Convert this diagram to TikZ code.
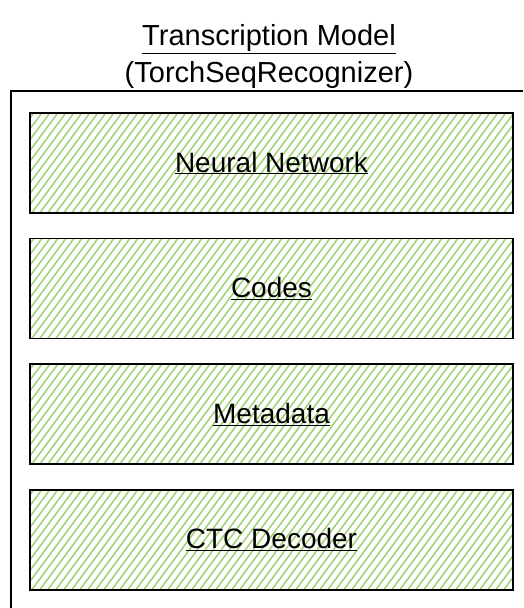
\documentclass[tikz,border=0pt]{standalone}
\usepackage{fontspec}
\setmainfont{Liberation Sans}
\usetikzlibrary{positioning}
\definecolor{hatch}{HTML}{9ED26E}
\tikzset{
  part/.style={draw, line width=1.6pt, minimum width=483pt, minimum height=100pt,
    inner sep=0pt, font=\fontsize{28}{32}\selectfont,
    path picture={
      \foreach \s in {-90,-82,...,490}
        \draw[hatch, line width=1.5pt]
          ([shift={(\s,5)}]path picture bounding box.south west) -- ++(80,-108);
    }},
}
\begin{document}
\begin{tikzpicture}[x=1pt,y=-1pt]
\useasboundingbox (0,0) rectangle (523,608);
% outer frame, cut by the page on the right and at the bottom
\draw[line width=1.6pt] (523,91) -- (11,91) -- (11,608);

\node[align=center, font=\fontsize{29}{37}\selectfont] (title) at (269,58)
  {\underline{Transcription Model}\\\underline{(TorchSeqRecognizer)}};

\node[part] (net) at (271.5,163) {\underline{Neural Network}};
\node[part, below=24pt of net] (codes) {\underline{Codes}};
\node[part, below=24pt of codes] (meta) {\underline{Metadata}};
\node[part, below=24pt of meta] (ctc) {\underline{CTC Decoder}};
\end{tikzpicture}
\end{document}
